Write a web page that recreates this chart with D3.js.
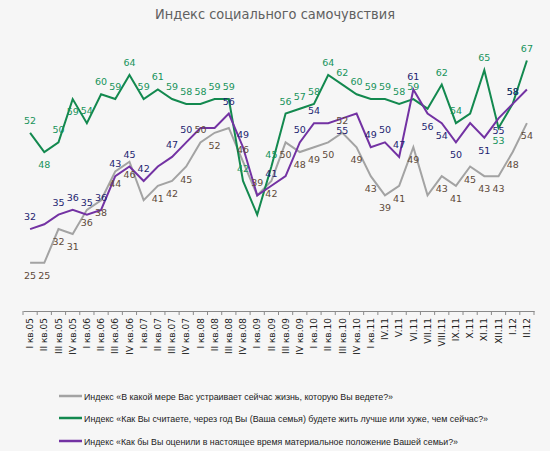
<!DOCTYPE html>
<html><head><meta charset="utf-8">
<script src="https://cdn.jsdelivr.net/npm/d3@7"></script>
<style>
html,body{margin:0;padding:0;background:#f6f6f6;}
svg{display:block;}
</style></head>
<body>
<script>
const categories = ["I кв.05","II кв.05","III кв.05","IV кв.05","I кв.06","II кв.06","III кв.06","IV кв.06","I кв.07","II кв.07","III кв.07","IV кв.07","I кв.08","II кв.08","III кв.08","IV кв.08","I кв.09","II кв.09","III кв.09","IV кв.09","I кв.10","II кв.10","III кв.10","IV кв.10","I кв.11","IV.11","V.11","VI.11","VII.11","VIII.11","IX.11","X.11","XI.11","XII.11","I.12","II.12"];

const lifeSatisfaction = [25,25,32,31,36,38,44,46,38,41,42,45,50,52,53,46,39,42,50,48,49,50,52,49,43,39,41,49,39,43,41,45,43,43,48,54];
const futureOutlook    = [52,48,50,59,54,60,59,64,59,61,59,58,58,59,59,42,35,45,56,57,58,64,62,60,59,59,58,59,57,62,54,56,65,53,58,67];
const materialStatus   = [32,33,35,36,35,36,43,45,42,45,47,50,53,53,56,49,39,41,43,50,54,54,55,56,49,50,47,61,56,54,50,54,51,55,58,61];

const seriesNames = [
  "Индекс «В какой мере Вас устраивает сейчас жизнь, которую Вы ведете?»",
  "Индекс «Как Вы считаете, через год Вы (Ваша семья) будете жить лучше или хуже, чем сейчас?»",
  "Индекс «Как бы Вы оценили в настоящее время материальное положение Вашей семьи?»"
];
// indices whose data labels are not shown in the original
const hiddenLabels = [[8,14,28],[16,28,31],[1,9,12,13,16,18,21,23,31,35]];
// indices whose labels sit on the opposite side from the series default
const flippedLabels = [[12,15,16,22],[1,3,33],[22,28,29,30,32,33]];

const title = "Индекс социального самочувствия";

const W = 550, H = 451;
const svg = d3.select("body").append("svg").attr("width", W).attr("height", H);

const x = d3.scaleBand().domain(categories).range([23, 534]).padding(0);
const y = d3.scaleLinear().domain([15, 75]).range([311, 22]);

const colors = ["#a3a3a3", "#13894f", "#7332a3"];
const labelColors = ["#5e4a3a", "#17935a", "#1d2470"];
const defaultAbove = [false, true, true];
const series = [lifeSatisfaction, futureOutlook, materialStatus];

// title
svg.append("text").attr("x", 275).attr("y", 19).attr("text-anchor", "middle")
  .attr("font-family", "DejaVu Sans, Verdana, sans-serif").attr("font-size", 14)
  .attr("fill", "#606060").attr("textLength", 240).attr("lengthAdjust", "spacingAndGlyphs")
  .text(title);

// x axis
const xAxis = d3.axisBottom(x).tickSize(0).tickFormat(d => d);
const gx = svg.append("g").attr("transform", "translate(0,311)").call(xAxis);
gx.select(".domain").attr("stroke", "#8a8a8a").attr("stroke-width", 1.2);
gx.selectAll(".tick text")
  .attr("font-family", "DejaVu Sans, Verdana, sans-serif").attr("font-size", 9)
  .attr("fill", "#222").attr("text-anchor", "end")
  .attr("transform", "rotate(-90)").attr("x", -7).attr("y", 0).attr("dy", "0.35em");
// boundary ticks
const bounds = categories.map(c => x(c)).concat([x(categories[categories.length-1]) + x.bandwidth()]);
svg.append("g").selectAll("line").data(bounds).join("line")
  .attr("x1", d => d).attr("x2", d => d).attr("y1", 311).attr("y2", 315)
  .attr("stroke", "#8a8a8a").attr("stroke-width", 1);

const cx = (d, i) => x(categories[i]) + x.bandwidth() / 2;
const line = d3.line().x((d, i) => cx(d, i)).y(d => y(d));

series.forEach((s, k) => {
  svg.append("path").datum(s).attr("d", line).attr("fill", "none")
    .attr("stroke", colors[k]).attr("stroke-width", 2).attr("stroke-linejoin", "miter");
});

series.forEach((s, k) => {
  const g = svg.append("g");
  s.forEach((v, i) => {
    if (hiddenLabels[k].includes(i)) return;
    const above = flippedLabels[k].includes(i) ? !defaultAbove[k] : defaultAbove[k];
    g.append("text").attr("x", cx(v, i)).attr("y", above ? y(v) - 9 : y(v) + 16)
      .attr("text-anchor", "middle")
      .attr("font-family", "DejaVu Sans, Verdana, sans-serif").attr("font-size", 9.5)
      .attr("fill", labelColors[k]).text(v);
  });
});

// legend
const legY = [396, 418, 441];
const legW = [309, 404, 374];
seriesNames.forEach((n, k) => {
  svg.append("line").attr("x1", 59).attr("x2", 82).attr("y1", legY[k]).attr("y2", legY[k])
    .attr("stroke", colors[k]).attr("stroke-width", 2.5);
  svg.append("text").attr("x", 84).attr("y", legY[k] + 3.5)
    .attr("font-family", "Liberation Sans, Arial, sans-serif").attr("font-size", 9.5)
    .attr("fill", "#222").attr("textLength", legW[k]).attr("lengthAdjust", "spacingAndGlyphs")
    .text(n);
});
</script>
</body></html>
